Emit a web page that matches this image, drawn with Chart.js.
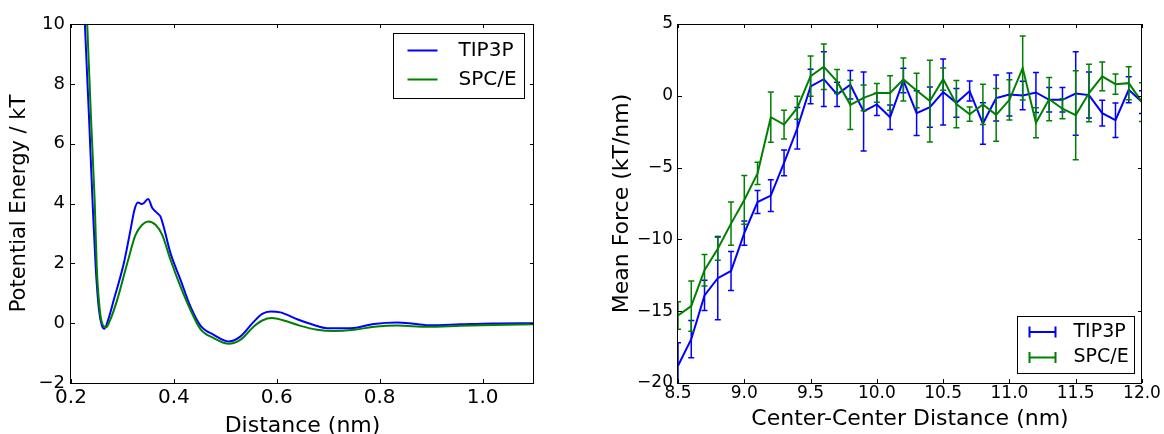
<!DOCTYPE html>
<html>
<head>
<meta charset="utf-8">
<script src="https://cdn.jsdelivr.net/npm/chart.js@4.4.1/dist/chart.umd.min.js"></script>
<style>
  html, body { margin: 0; padding: 0; background: #fff; }
  #wrap { position: relative; width: 1164px; height: 434px; }
  #energy { position: absolute; left: 0; top: 0; }
  #force { position: absolute; left: 580px; top: 0; }
</style>
</head>
<body>
<div id="wrap">
  <canvas id="energy" width="580" height="434"></canvas>
  <canvas id="force" width="584" height="434"></canvas>
</div>
<script>
const BLUE = '#0000ff';
const GREEN = '#008000';

// pair potential vs distance (left panel)
const tip3pR = [0.222, 0.227, 0.235, 0.2418, 0.248, 0.2544, 0.260, 0.265, 0.272, 0.2832, 0.3027, 0.3157, 0.3234, 0.330, 0.3384, 0.350, 0.358, 0.3676, 0.374, 0.380, 0.3934, 0.4129, 0.4323, 0.4517, 0.4776, 0.5068, 0.529, 0.5554, 0.5717, 0.5878, 0.607, 0.6397, 0.672, 0.698, 0.7434, 0.7887, 0.834, 0.866, 0.898, 0.957, 1.02, 1.1];
const tip3pU = [12.5, 10.0, 6.9, 4.1, 1.88, 0.44, -0.08, -0.19, 0.1, 0.78, 2.0, 3.12, 3.79, 4.03, 3.98, 4.15, 3.85, 3.68, 3.56, 3.23, 2.34, 1.45, 0.55, -0.08, -0.39, -0.61, -0.45, 0.05, 0.31, 0.39, 0.36, 0.13, -0.06, -0.17, -0.17, -0.03, 0.02, -0.02, -0.07, -0.04, -0.01, 0.0];
const spceR = [0.2265, 0.2315, 0.239, 0.246, 0.250, 0.256, 0.263, 0.269, 0.276, 0.2898, 0.3093, 0.3254, 0.3384, 0.350, 0.3643, 0.3773, 0.3934, 0.4129, 0.4323, 0.4517, 0.4776, 0.5068, 0.529, 0.5554, 0.5717, 0.591, 0.6137, 0.646, 0.6786, 0.711, 0.75, 0.795, 0.834, 0.892, 0.957, 1.02, 1.1];
const spceU = [12.5, 10.0, 6.8, 4.1, 1.9, 0.44, -0.09, -0.13, 0.1, 0.78, 2.0, 2.95, 3.29, 3.40, 3.29, 2.95, 2.12, 1.22, 0.44, -0.2, -0.5, -0.69, -0.56, -0.11, 0.09, 0.17, 0.09, -0.09, -0.22, -0.26, -0.22, -0.11, -0.08, -0.12, -0.09, -0.06, -0.04];
const energyXTicks = [0.2, 0.4, 0.6, 0.8, 1.0];
const energyYTicks = [-2, 0, 2, 4, 6, 8, 10];

// mean force between centers, with error bars (right panel)
const forceR = [8.5, 8.6, 8.7, 8.8, 8.9, 9.0, 9.1, 9.2, 9.3, 9.4, 9.5, 9.6, 9.7, 9.8, 9.9, 10.0, 10.1, 10.2, 10.3, 10.4, 10.5, 10.6, 10.7, 10.8, 10.9, 11.0, 11.1, 11.2, 11.3, 11.4, 11.5, 11.6, 11.7, 11.8, 11.9, 12.0];
const tip3pF = [-18.8, -16.95, -13.9, -12.7, -12.2, -9.56, -7.4, -6.95, -4.67, -2.26, 0.65, 1.16, 0.1, 0.77, -1.09, -0.6, -1.49, 1.07, -1.21, -0.79, 0.26, -0.49, 0.33, -1.93, -0.16, 0.09, 0.02, 0.23, -0.28, -0.28, 0.16, 0.05, -1.21, -1.7, 0.42, -0.44];
const tip3pFErr = [1.6, 1.3, 1.05, 2.9, 1.35, 0.85, 0.8, 1.1, 0.9, 1.45, 1.2, 1.9, 0.85, 1.0, 2.75, 0.77, 0.85, 0.85, 1.56, 1.4, 2.3, 1.0, 0.7, 1.45, 1.6, 1.5, 1.0, 1.4, 0.85, 0.85, 2.9, 1.6, 0.9, 1.2, 0.9, 0.8];
const spceF = [-15.3, -14.65, -12.15, -10.65, -8.9, -7.25, -5.4, -1.49, -2.0, -0.84, 1.37, 2.02, 1.0, -0.63, -0.14, 0.2, 0.2, 1.14, 0.37, -0.37, 1.16, -0.58, -1.28, -0.6, -1.33, -0.28, 1.93, -1.88, -0.23, -0.9, -1.35, 0.19, 1.35, 0.81, 0.88, -0.44];
const spceFErr = [0.95, 1.75, 1.1, 0.8, 1.5, 1.7, 0.77, 1.75, 1.0, 0.8, 1.4, 1.58, 0.84, 1.72, 0.9, 0.65, 1.2, 1.5, 1.2, 2.85, 0.77, 1.64, 0.5, 1.4, 1.84, 1.4, 2.23, 1.05, 1.5, 0.7, 3.1, 2.0, 1.0, 0.7, 1.15, 1.35];
const forceXTicks = [8.5, 9.0, 9.5, 10.0, 10.5, 11.0, 11.5, 12.0];
const forceYTicks = [-20, -15, -10, -5, 0, 5];

Chart.defaults.font.family = '"DejaVu Sans", sans-serif';
Chart.defaults.color = '#000';
Chart.defaults.animation = false;

const minus = v => String(v).replace('-', '\u2212');
const points = (xs, ys) => xs.map((x, i) => ({x: x, y: ys[i]}));

// black frame with inward ticks on all four sides
const frameTicks = {
  id: 'frameTicks',
  afterDraw(chart) {
    const {ctx, chartArea: a, scales: {x, y}} = chart;
    const len = 4;
    ctx.save();
    ctx.strokeStyle = '#000';
    ctx.lineWidth = 1;
    ctx.beginPath();
    x.ticks.forEach(t => {
      const px = Math.round(x.getPixelForValue(t.value)) + 0.5;
      ctx.moveTo(px, a.bottom); ctx.lineTo(px, a.bottom - len);
      ctx.moveTo(px, a.top); ctx.lineTo(px, a.top + len);
    });
    y.ticks.forEach(t => {
      const py = Math.round(y.getPixelForValue(t.value)) + 0.5;
      ctx.moveTo(a.left, py); ctx.lineTo(a.left + len, py);
      ctx.moveTo(a.right, py); ctx.lineTo(a.right - len, py);
    });
    ctx.stroke();
    ctx.strokeRect(a.left - 0.5, a.top + 0.5, a.width, a.height);
    ctx.restore();
  }
};

// vertical error bars with caps, drawn right after each dataset's line
const errorBars = {
  id: 'errorBars',
  afterDatasetDraw(chart, args) {
    const ds = chart.data.datasets[args.index];
    if (!ds.errors) return;
    const {ctx, chartArea: a} = chart;
    const ys = chart.scales.y;
    ctx.save();
    ctx.beginPath();
    ctx.rect(a.left, a.top, a.width, a.height);
    ctx.clip();
    ctx.strokeStyle = ds.borderColor;
    ctx.lineWidth = 1.5;
    args.meta.data.forEach((pt, i) => {
      const v = ds.data[i].y, e = ds.errors[i];
      const top = ys.getPixelForValue(v + e), bot = ys.getPixelForValue(v - e);
      ctx.beginPath();
      ctx.moveTo(pt.x, top); ctx.lineTo(pt.x, bot);
      ctx.moveTo(pt.x - 3, top); ctx.lineTo(pt.x + 3, top);
      ctx.moveTo(pt.x - 3, bot); ctx.lineTo(pt.x + 3, bot);
      ctx.stroke();
    });
    ctx.restore();
  }
};

// boxed legend inside the plot area
const boxLegend = {
  id: 'boxLegend',
  afterDraw(chart, args, o) {
    const {ctx, chartArea: a} = chart;
    const x0 = Math.round(a.right - o.right - o.width) + 0.5;
    const y0 = Math.round(o.top != null ? a.top + o.top : a.bottom - o.bottom - o.height) + 0.5;
    ctx.save();
    ctx.fillStyle = '#fff';
    ctx.fillRect(x0, y0, o.width, o.height);
    ctx.strokeStyle = '#000';
    ctx.lineWidth = 1;
    ctx.strokeRect(x0, y0, o.width, o.height);
    ctx.font = o.fontSize + 'px "DejaVu Sans"';
    ctx.textBaseline = 'middle';
    ctx.textAlign = 'left';
    chart.data.datasets.forEach((ds, i) => {
      const cy = y0 + o.firstRow + i * o.rowGap;
      const sx = x0 + o.symbolLeft, ex = sx + o.symbolWidth;
      ctx.strokeStyle = ds.borderColor;
      ctx.lineWidth = 2;
      ctx.beginPath();
      ctx.moveTo(sx, cy); ctx.lineTo(ex, cy);
      if (ds.errors) {
        ctx.moveTo(sx, cy - 5.5); ctx.lineTo(sx, cy + 5.5);
        ctx.moveTo(ex, cy - 5.5); ctx.lineTo(ex, cy + 5.5);
      }
      ctx.stroke();
      ctx.fillStyle = '#000';
      ctx.fillText(ds.label, x0 + o.textLeft, cy);
    });
    ctx.restore();
  }
};

const fixedTicks = values => scale => { scale.ticks = values.map(v => ({value: v})); };

new Chart(document.getElementById('energy'), {
  type: 'line',
  data: {
    datasets: [
      {label: 'TIP3P', data: points(tip3pR, tip3pU), borderColor: BLUE, borderWidth: 2, pointRadius: 0, cubicInterpolationMode: 'monotone', order: 1},
      {label: 'SPC/E', data: points(spceR, spceU), borderColor: GREEN, borderWidth: 2, pointRadius: 0, cubicInterpolationMode: 'monotone', order: 0}
    ]
  },
  options: {
    responsive: false,
    animation: false,
    layout: {padding: {top: 24, right: 46, left: 0, bottom: 0}},
    plugins: {
      legend: {display: false},
      tooltip: {enabled: false},
      boxLegend: {right: 10, top: 9, width: 131, height: 65, firstRow: 17, rowGap: 29, symbolLeft: 14, symbolWidth: 30, textLeft: 65, fontSize: 20}
    },
    scales: {
      x: {
        type: 'linear', min: 0.2, max: 1.1,
        afterFit: s => { s.height = 51; },
        afterBuildTicks: fixedTicks(energyXTicks),
        grid: {display: false, drawTicks: false},
        border: {display: false},
        ticks: {font: {size: 20}, padding: 3, maxRotation: 0, autoSkip: false, callback: v => v.toFixed(1)},
        title: {display: true, text: 'Distance (nm)', font: {size: 22, lineHeight: 0.68}, padding: 0}
      },
      y: {
        type: 'linear', min: -2, max: 10,
        afterFit: s => { s.width = 71; },
        afterBuildTicks: fixedTicks(energyYTicks),
        grid: {display: false, drawTicks: false},
        border: {display: false},
        ticks: {font: {size: 18}, padding: 6, callback: v => minus(v)},
        title: {display: true, text: 'Potential Energy / kT', font: {size: 21, lineHeight: 1}, padding: {top: 9.5, bottom: 0}}
      }
    }
  },
  plugins: [frameTicks, boxLegend]
});

new Chart(document.getElementById('force'), {
  type: 'line',
  data: {
    datasets: [
      {label: 'TIP3P', data: points(forceR, tip3pF), errors: tip3pFErr, borderColor: BLUE, borderWidth: 2, pointRadius: 0, tension: 0, order: 1},
      {label: 'SPC/E', data: points(forceR, spceF), errors: spceFErr, borderColor: GREEN, borderWidth: 2, pointRadius: 0, tension: 0, order: 0}
    ]
  },
  options: {
    responsive: false,
    animation: false,
    layout: {padding: {top: 24, right: 22, left: 0, bottom: 0}},
    plugins: {
      legend: {display: false},
      tooltip: {enabled: false},
      boxLegend: {right: 8, bottom: 10, width: 117, height: 57, firstRow: 15.5, rowGap: 25.5, symbolLeft: 12, symbolWidth: 26, textLeft: 56, fontSize: 19}
    },
    scales: {
      x: {
        type: 'linear', min: 8.5, max: 12.0,
        afterFit: s => { s.height = 51; },
        afterBuildTicks: fixedTicks(forceXTicks),
        grid: {display: false, drawTicks: false},
        border: {display: false},
        ticks: {font: {size: 17}, padding: 0, maxRotation: 0, autoSkip: false, callback: v => v.toFixed(1)},
        title: {display: true, text: 'Center-Center Distance (nm)', font: {size: 22, lineHeight: 1}, padding: {top: 0, bottom: 4}}
      },
      y: {
        type: 'linear', min: -20, max: 5,
        afterFit: s => { s.width = 98; },
        afterBuildTicks: fixedTicks(forceYTicks),
        grid: {display: false, drawTicks: false},
        border: {display: false},
        ticks: {font: {size: 17}, padding: 5, callback: v => minus(v)},
        title: {display: true, text: 'Mean Force (kT/nm)', font: {size: 22, lineHeight: 1}, padding: {top: 31, bottom: 0}}
      }
    }
  },
  plugins: [frameTicks, errorBars, boxLegend]
});
</script>
</body>
</html>
